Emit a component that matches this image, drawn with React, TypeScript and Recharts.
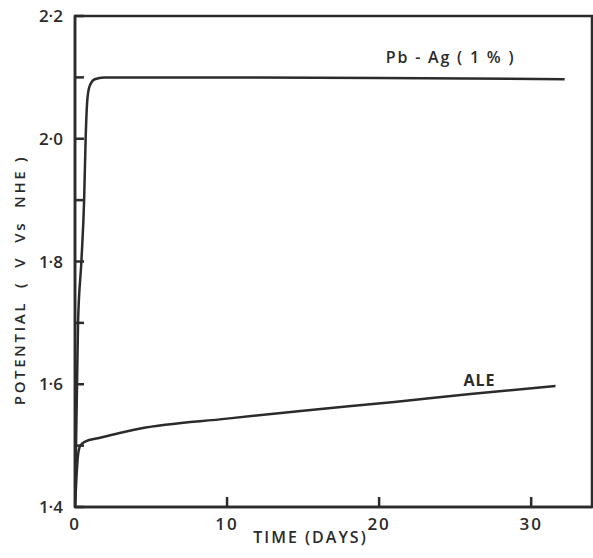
import {
  LineChart,
  Line,
  XAxis,
  YAxis,
  ReferenceArea,
  ReferenceDot,
  Label,
} from "recharts";

// Pb-Ag (1 %) anode
const pbAgDays = [0, 0.2, 0.42, 0.6, 0.7, 0.8, 0.95, 1.3, 1.9, 10, 20, 32.2];
const pbAgPotential = [1.4, 1.7, 1.8, 1.9, 2.0, 2.06, 2.085, 2.097, 2.1, 2.1, 2.099, 2.097];

// ALE anode
const aleDays = [0, 0.1, 0.2, 0.35, 0.7, 1.5, 4.3, 10, 15, 21, 26, 31.6];
const alePotential = [1.4, 1.45, 1.485, 1.5, 1.507, 1.512, 1.528, 1.544, 1.557, 1.571, 1.584, 1.597];

const xTicks = [0, 10, 20, 30];
const yTicks = [1.4, 1.5, 1.6, 1.7, 1.8, 1.9, 2.0, 2.1, 2.2];

const INK = "#2b2b2b";
const FONT = "'Open Sans', 'DejaVu Sans', sans-serif";

const pbAgData = pbAgDays.map((d, i) => ({ day: d, v: pbAgPotential[i] }));
const aleData = aleDays.map((d, i) => ({ day: d, v: alePotential[i] }));

const fmtY = (v: number) =>
  Math.round(v * 10) % 2 === 0 ? v.toFixed(1).replace(".", "·") : "";

// tick marks point into the plot; labels sit outside
const XTick = ({ x, y, payload }: any) => (
  <g>
    {payload.value !== 0 && (
      <path d={`M${x},${y}v-10`} stroke={INK} strokeWidth={2.5} fill="none" />
    )}
    <text
      x={x}
      y={y + 23}
      textAnchor="middle"
      fill={INK}
      fontSize={17}
      fontFamily={FONT}
      fontWeight={600}
      letterSpacing={2}
    >
      {payload.value}
    </text>
  </g>
);

const YTick = ({ x, y, payload }: any) => (
  <g>
    <path d={`M${x},${y}h9`} stroke={INK} strokeWidth={2.5} fill="none" />
    <text
      x={x - 12}
      y={y + 6}
      textAnchor="end"
      fill={INK}
      fontSize={17}
      fontFamily={FONT}
      fontWeight={600}
    >
      {fmtY(payload.value)}
    </text>
  </g>
);

export default function App() {
  return (
    <div style={{ position: "absolute", left: 0, top: 0, background: "#fff" }}>
      <LineChart
        width={593}
        height={558}
        margin={{ top: 16, right: 1, bottom: 0, left: 0 }}
      >
        <XAxis
          dataKey="day"
          type="number"
          domain={[0, 34]}
          ticks={xTicks}
          allowDataOverflow
          height={51}
          axisLine={{ stroke: INK, strokeWidth: 2.5 }}
          tickLine={false}
          tickSize={0}
          tickMargin={0}
          tick={<XTick />}
        >
          <Label
            content={({ viewBox }: any) => (
              <text
                x={viewBox.x + viewBox.width / 2 - 23}
                y={viewBox.y + 36}
                textAnchor="middle"
                fill={INK}
                fontSize={16}
                fontFamily={FONT}
                fontWeight={600}
                letterSpacing={2}
              >
                TIME (DAYS)
              </text>
            )}
          />
        </XAxis>
        <YAxis
          type="number"
          domain={[1.4, 2.2]}
          ticks={yTicks}
          allowDataOverflow
          width={75}
          interval={0}
          axisLine={{ stroke: INK, strokeWidth: 2.5 }}
          tickLine={false}
          tickSize={0}
          tickMargin={0}
          tick={<YTick />}
        >
          <Label
            content={() => (
              <text
                x={19}
                y={280}
                transform="rotate(-90 19 280)"
                textAnchor="middle"
                dominantBaseline="central"
                fill={INK}
                fontSize={15}
                fontFamily={FONT}
                fontWeight={600}
                letterSpacing={2.6}
                style={{ whiteSpace: "pre" }}
              >
                {"POTENTIAL  (  V  Vs  NHE )"}
              </text>
            )}
          />
        </YAxis>
        <ReferenceArea
          x1={0}
          x2={34}
          y1={1.4}
          y2={2.2}
          fill="none"
          stroke={INK}
          strokeWidth={2.5}
          ifOverflow="visible"
        />
        <Line
          data={pbAgData}
          dataKey="v"
          type="monotone"
          stroke={INK}
          strokeWidth={2.5}
          dot={false}
          isAnimationActive={false}
        />
        <Line
          data={aleData}
          dataKey="v"
          type="monotone"
          stroke={INK}
          strokeWidth={2.5}
          dot={false}
          isAnimationActive={false}
        />
        <ReferenceDot x={24.7} y={2.132} r={0} ifOverflow="visible">
          <Label
            value="Pb - Ag  ( 1 % )"
            position="center"
            fill={INK}
            fontSize={16}
            fontFamily={FONT}
            fontWeight={600}
            letterSpacing={1.8}
            style={{ whiteSpace: "pre" }}
          />
        </ReferenceDot>
        <ReferenceDot x={26.6} y={1.607} r={0} ifOverflow="visible">
          <Label
            value="ALE"
            position="center"
            fill={INK}
            fontSize={16}
            fontWeight={700}
            fontFamily={FONT}
            letterSpacing={1}
          />
        </ReferenceDot>
      </LineChart>
    </div>
  );
}
